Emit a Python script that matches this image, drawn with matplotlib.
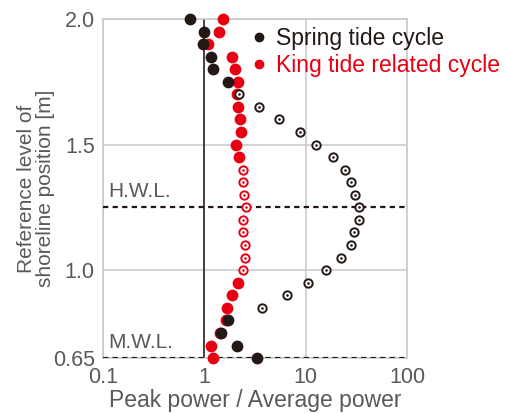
import numpy as np
import matplotlib
matplotlib.use("Agg")
import matplotlib.pyplot as plt
from matplotlib.lines import Line2D

plt.rcParams['font.family'] = ['Liberation Sans', 'DejaVu Sans']

# reference levels of shoreline position [m], top to bottom
levels = [2.00, 1.95, 1.90, 1.85, 1.80, 1.75, 1.70, 1.65, 1.60, 1.55,
          1.50, 1.45, 1.40, 1.35, 1.30, 1.25, 1.20, 1.15, 1.10, 1.05,
          1.00, 0.95, 0.90, 0.85, 0.80, 0.75, 0.70, 0.65]

# peak power / average power
spring = [0.72, 1.00, 0.98, 1.15, 1.22, 1.72, 2.21, 3.47, 5.50, 8.85,
          12.6, 18.7, 24.2, 28.3, 31.0, 33.7, 33.2, 30.0, 28.1, 22.2,
          15.7, 10.5, 6.50, 3.69, 1.72, 1.46, 2.10, 3.34]
king = [1.54, 1.38, 1.08, 1.86, 1.99, 2.13, 2.08, 2.13, 2.24, 2.28,
        2.05, 2.22, 2.38, 2.43, 2.46, 2.55, 2.42, 2.42, 2.53, 2.49,
        2.42, 2.17, 1.87, 1.69, 1.63, 1.42, 1.16, 1.23]

# level ranges plotted as open (significant) markers
spring_open = (0.85, 1.70)
king_open = (1.00, 1.40)

hwl = 1.25
mwl = 0.65

BLACK = '#231815'
RED = '#e60012'
GRAY = '#595959'

lev = np.array(levels)
spring = np.array(spring)
king = np.array(king)

fig = plt.figure(figsize=(5.05, 4.13), dpi=100)
ax = fig.add_axes([0.204, 0.133, 0.602, 0.821])

ax.set_xscale('log')
ax.set_xlim(0.1, 100)
ax.set_ylim(0.65, 2.0)

ax.axvline(1, color=BLACK, lw=1.1, zorder=2)
for y in (hwl, mwl):
    ax.axhline(y, color=BLACK, lw=1.6, dashes=(2.4, 1.9), zorder=2.7)

trans = ax.get_yaxis_transform()
ax.text(0.017, hwl + 0.025, 'H.W.L.', color=GRAY, fontsize=15, va='bottom', ha='left',
        transform=trans)
ax.text(0.017, mwl + 0.025, 'M.W.L.', color=GRAY, fontsize=15, va='bottom', ha='left',
        transform=trans)


def draw_series(vals, rng, color, z):
    op = (lev >= rng[0] - 1e-9) & (lev <= rng[1] + 1e-9)
    ax.scatter(vals[~op], lev[~op], s=72, color=color, lw=0, zorder=z, clip_on=False)
    ax.scatter(vals[op], lev[op], s=36, facecolor='white', edgecolor=color,
               lw=1.4, zorder=z, clip_on=False)
    ax.scatter(vals[op], lev[op], s=3.5, color=color, lw=0, zorder=z + 0.1, clip_on=False)


draw_series(king, king_open, RED, 3)
draw_series(spring, spring_open, BLACK, 4)

ax.set_xticks([0.1, 1, 10, 100])
ax.set_xticklabels(['0.1', '1', '10', '100'])
ax.set_yticks([0.65, 1.0, 1.5, 2.0])
ax.set_yticklabels(['0.65', '1.0', '1.5', '2.0'])
ax.minorticks_off()
ax.tick_params(length=0, labelsize=15.5, labelcolor=GRAY)
ax.tick_params(axis='x', pad=6.5)
ax.tick_params(axis='y', pad=6)
ax.grid(True, color='#c8c8c8', lw=1.1)
ax.set_axisbelow(True)
for sp in ax.spines.values():
    sp.set_color('#c8c8c8')
    sp.set_linewidth(1.1)

ax.set_xlabel('Peak power / Average power', fontsize=16.5, color=GRAY, labelpad=0.5)
ax.set_ylabel('Reference level of\nshoreline position [m]', fontsize=15,
              color=GRAY, linespacing=1.0, labelpad=-2)

handles = [Line2D([], [], ls='none', marker='o', ms=6, color=BLACK),
           Line2D([], [], ls='none', marker='o', ms=6, color=RED)]
ax.legend(handles, ['Spring tide cycle', 'King tide related cycle'],
          loc='upper left', bbox_to_anchor=(0.49, 0.975), frameon=False,
          fontsize=16.5, handlelength=0.6, handletextpad=0.45, labelspacing=0.15,
          borderaxespad=0, borderpad=0, labelcolor='markerfacecolor')

fig.savefig('out.png', dpi=100)
